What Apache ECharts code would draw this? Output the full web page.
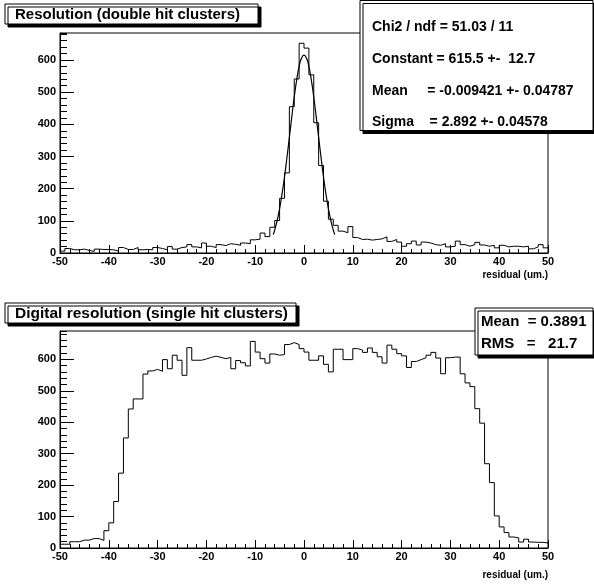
<!DOCTYPE html>
<html>
<head>
<meta charset="utf-8">
<script src="https://cdn.jsdelivr.net/npm/echarts@6/dist/echarts.min.js"></script>
<style>
  html, body { margin: 0; padding: 0; background: #fff; }
  #main { width: 594px; height: 585px; }
</style>
</head>
<body>
<div id="main"></div>
<script>
  // histogram binning (100 bins of 1 um from -50 to 50)
  var binLow = -50
  var binWidth = 1
  var xMin = -50
  var xMax = 50

  // top: double hit clusters, counts per bin
  var doubleHitCounts = [
    6, 14, 10, 10, 12, 8, 5, 12, 11, 11,
    10, 6, 17, 11, 11, 17, 10, 11, 10, 17,
    14, 10, 20, 12, 17, 19, 26, 19, 16, 31,
    21, 17, 26, 23, 29, 27, 24, 31, 29, 41,
    43, 62, 51, 80, 101, 170, 249, 455, 541, 652,
    637, 554, 405, 272, 161, 105, 86, 68, 63, 82,
    48, 42, 43, 40, 42, 44, 50, 36, 42, 34,
    21, 29, 37, 25, 34, 31, 26, 24, 29, 19,
    21, 37, 26, 21, 26, 33, 25, 21, 24, 16,
    24, 19, 21, 21, 19, 21, 13, 19, 26, 16
  ]

  // gaussian fit curve
  var fitX = [-6.3, -6, -5.5, -5, -4.5, -4, -3.5, -3, -2.5, -2, -1.5, -1, -0.5, 0,
    0.5, 1, 1.5, 2, 2.5, 3, 3.5, 4, 4.5, 5, 5.5, 6, 6.3]
  var fitY = [57, 72, 101, 138, 183, 236, 296, 359, 424, 485, 538, 580, 606, 615,
    606, 580, 538, 485, 424, 359, 296, 236, 183, 138, 101, 72, 57]

  // bottom: single hit clusters, counts per bin
  var singleHitCounts = [
    12, 12, 20, 20, 25, 25, 30, 30, 24, 55,
    80, 148, 238, 350, 442, 474, 474, 553, 563, 568,
    562, 599, 570, 613, 597, 549, 637, 597, 597, 601,
    606, 610, 606, 602, 606, 570, 596, 589, 579, 657,
    623, 602, 588, 617, 613, 615, 647, 653, 647, 634,
    623, 597, 597, 611, 584, 560, 632, 632, 599, 599,
    634, 629, 622, 636, 622, 608, 588, 645, 632, 618,
    611, 574, 593, 599, 605, 613, 622, 604, 554, 605,
    607, 607, 554, 525, 513, 443, 397, 268, 208, 102,
    67, 49, 35, 32, 19, 28, 19, 18, 18, 16
  ]

  var topYMax = 684
  var bottomYMax = 690

  var topTitle = 'Resolution (double hit clusters)'
  var bottomTitle = 'Digital resolution (single hit clusters)'
  var topStats = ['Chi2 / ndf = 51.03 / 11', 'Constant = 615.5 +-  12.7',
    'Mean     = -0.009421 +- 0.04787', 'Sigma    = 2.892 +- 0.04578']
  var bottomStats = ['Mean  = 0.3891', 'RMS   =   21.7']
  var xTitle = 'residual (um.)'

  var FONT = '"Liberation Sans", Arial, Helvetica, sans-serif'

  function histPoints(values) {
    var pts = values.map(function(v, i) {
      return [binLow + i * binWidth, v]
    })
    // closing point so the last bin gets its full width
    pts.push([binLow + values.length * binWidth, values[values.length - 1]])
    return pts
  }

  function xAxisFor(gridIndex) {
    return {
      type: 'value',
      gridIndex: gridIndex,
      min: xMin,
      max: xMax,
      interval: 10,
      axisLine: { show: true, onZero: false, lineStyle: { color: '#000', width: 1 } },
      axisTick: { show: true, inside: true, length: 8, lineStyle: { color: '#000' } },
      minorTick: { show: true, splitNumber: 5, length: 4, lineStyle: { color: '#000' } },
      splitLine: { show: false },
      axisLabel: {
        margin: 3,
        color: '#000',
        fontFamily: FONT,
        fontWeight: 'bold',
        fontSize: 11,
        showMinLabel: true,
        showMaxLabel: true
      }
    }
  }

  // major ticks + labels
  function yMajor(gridIndex, max) {
    return {
      type: 'value',
      gridIndex: gridIndex,
      position: 'left',
      min: 0,
      max: max,
      interval: 100,
      axisLine: { show: true, onZero: false, lineStyle: { color: '#000', width: 1 } },
      axisTick: { show: true, inside: true, length: 14, lineStyle: { color: '#000' } },
      splitLine: { show: false },
      axisLabel: {
        margin: 4,
        color: '#000',
        fontFamily: FONT,
        fontWeight: 'bold',
        fontSize: 11,
        showMaxLabel: false
      }
    }
  }

  // secondary ticks every 20 counts
  function yMinor(gridIndex, max) {
    return {
      type: 'value',
      gridIndex: gridIndex,
      position: 'left',
      min: 0,
      max: max,
      interval: 20,
      axisLine: { show: false, onZero: false },
      axisTick: { show: true, inside: true, length: 7, lineStyle: { color: '#000' } },
      splitLine: { show: false },
      axisLabel: { show: false }
    }
  }

  function box(x, y, w, h) {
    return {
      type: 'rect',
      z: 100,
      shape: { x: x, y: y, width: w, height: h },
      style: {
        fill: '#fff',
        stroke: '#000',
        lineWidth: 1,
        shadowColor: '#000',
        shadowBlur: 0,
        shadowOffsetX: 3,
        shadowOffsetY: 3
      }
    }
  }

  function label(text, x, y, size, align) {
    return {
      type: 'text',
      z: 101,
      x: x,
      y: y,
      style: {
        text: text,
        fill: '#000',
        font: 'bold ' + size + 'px ' + FONT,
        textAlign: align || 'left',
        textVerticalAlign: 'middle'
      }
    }
  }

  var chart = echarts.init(document.getElementById('main'), null, { renderer: 'canvas' })

  var graphics = [
    box(5, 4, 253, 20),
    label(topTitle, 15, 14.5, 15),
    box(5, 303, 291, 20),
    label(bottomTitle, 15, 313.5, 15.5),
    box(360, 0.5, 233, 130),
    label(xTitle, 548, 275, 10, 'right'),
    label(xTitle, 548, 575, 10, 'right'),
    box(475, 308, 118, 47)
  ]
  var statsY = [27, 59, 91, 122]
  topStats.forEach(function(t, i) {
    graphics.push(label(t, 372, statsY[i], 14))
  })
  var statsY2 = [321.5, 344]
  bottomStats.forEach(function(t, i) {
    graphics.push(label(t, 481, statsY2[i], 15))
  })

  var options = {
    animation: false,
    backgroundColor: '#fff',
    grid: [
      { left: 60, top: 33, width: 488, height: 220, show: true, borderColor: '#000', borderWidth: 1, backgroundColor: 'transparent' },
      { left: 60, top: 331, width: 488, height: 217, show: true, borderColor: '#000', borderWidth: 1, backgroundColor: 'transparent' }
    ],
    xAxis: [xAxisFor(0), xAxisFor(1)],
    yAxis: [yMajor(0, topYMax), yMinor(0, topYMax), yMajor(1, bottomYMax), yMinor(1, bottomYMax)],
    series: [
      {
        name: 'double hit',
        type: 'line',
        xAxisIndex: 0,
        yAxisIndex: 0,
        step: 'end',
        showSymbol: false,
        lineStyle: { color: '#000', width: 1 },
        data: histPoints(doubleHitCounts)
      },
      {
        name: 'fit',
        type: 'line',
        xAxisIndex: 0,
        yAxisIndex: 0,
        smooth: true,
        showSymbol: false,
        lineStyle: { color: '#000', width: 1.2 },
        data: fitX.map(function(x, i) { return [x, fitY[i]] })
      },
      {
        name: 'single hit',
        type: 'line',
        xAxisIndex: 1,
        yAxisIndex: 2,
        step: 'end',
        showSymbol: false,
        lineStyle: { color: '#000', width: 1 },
        data: histPoints(singleHitCounts)
      }
    ],
    graphic: graphics
  }

  chart.setOption(options)
</script>
</body>
</html>
